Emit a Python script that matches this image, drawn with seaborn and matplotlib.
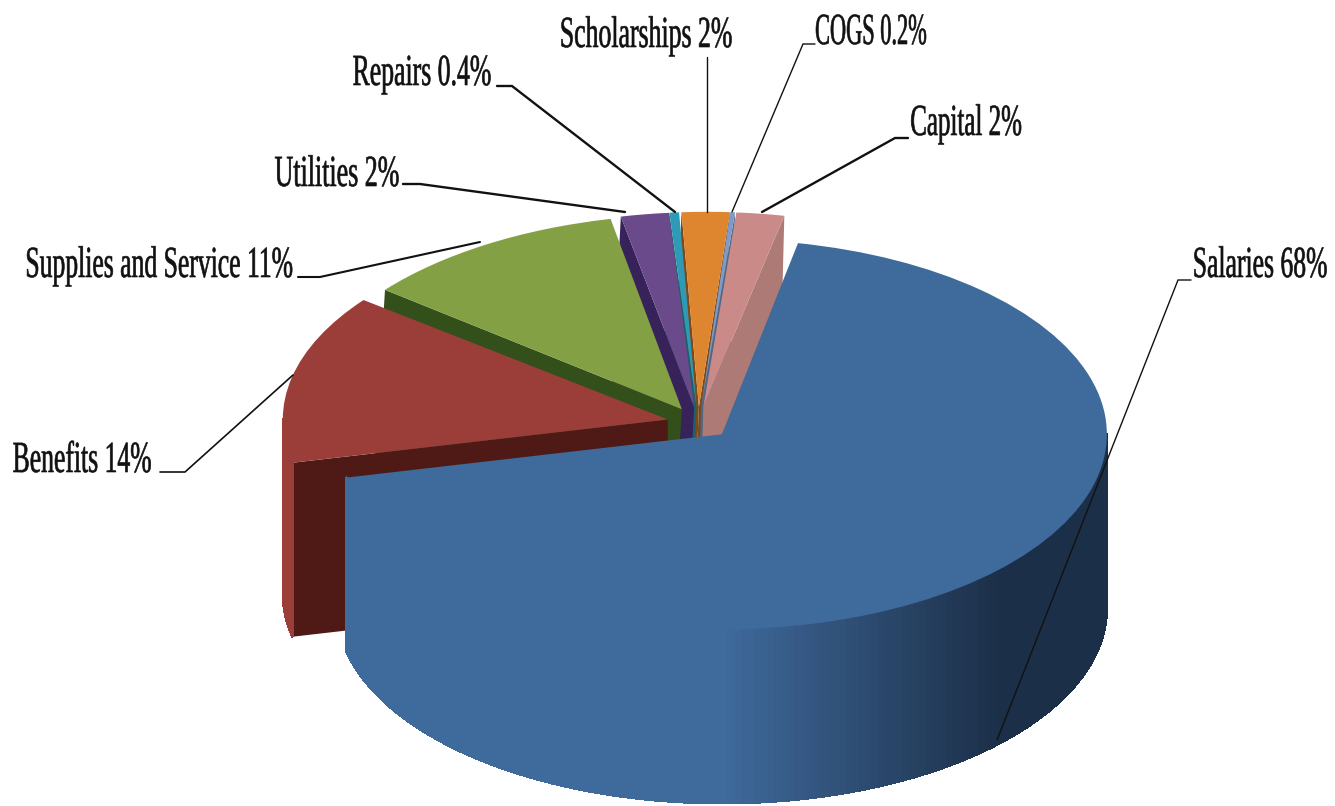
import numpy as np
import matplotlib
matplotlib.use("Agg")
import matplotlib.pyplot as plt
import matplotlib.patheffects as pe
from matplotlib.collections import PolyCollection
from matplotlib.transforms import Affine2D
import seaborn as sns

# -------------------------
# Data
# -------------------------
categories = ["Salaries", "Benefits", "Supplies and Service", "Utilities",
              "Repairs", "Scholarships", "COGS", "Capital"]
shares = [68, 14, 11, 2, 0.4, 2, 0.2, 2]
value_labels = ["68%", "14%", "11%", "2%", "0.4%", "2%", "0.2%", "2%"]

top_colors = ["#3f6a9c", "#9b3e3a", "#84a045", "#6b4a8c",
              "#2f9ab5", "#de8530", "#7d9bc9", "#c98a88"]
wall_colors = ["#1c2f48", "#4f1a15", "#33501a", "#37225a",
               "#1c5f70", "#7a4a1a", "#50678a", "#ad7a76"]

# -------------------------
# Layout (pixels of the 1335x806 picture)
# -------------------------
W, H = 1335, 806
RX, RY = 385, 195
DEPTH = 174
CX, CY = 699, 423
SQUASH = RY / RX
EXPLODE = 0.083
START = 78.6
LABEL_SIZE = 32
lean_x = [0, 0, 12, 10, 8, 8, 6, 5]  # back slices lean a bit to the right (perspective)
draw_order = [5, 6, 7, 4, 3, 2, 1, 0]

label_centers = [(1260, 277), (82, 472), (159, 277), (337, 186),
                 (422, 85), (646, 47), (871, 44), (966, 135)]
label_widths = [135, 139, 268, 125, 139, 173, 112, 112]
leaders = [
    [(997, 740), (1178, 280), (1191, 280)],
    [(293, 375), (185, 472), (160, 472)],
    [(480, 242), (320, 277), (298, 277)],
    [(625, 212), (420, 184), (403, 184)],
    [(675, 212), (512, 86), (497, 86)],
    [(707, 212), (707, 57)],
    [(732, 212), (803, 44), (815, 44)],
    [(762, 212), (895, 138), (908, 138)],
]
leader_widths = [1.0, 1.2, 1.5, 1.7, 1.7, 1.0, 1.0, 1.7]


class Tall(pe.AbstractPathEffect):
    # stretches a text upwards from its baseline, the labels in the original are condensed
    def __init__(self, sy):
        super().__init__()
        self.sy = sy

    def draw_path(self, renderer, gc, tpath, affine, rgbFace=None):
        gc.set_linewidth(0.45)
        gc.set_foreground(rgbFace)
        renderer.draw_path(gc, tpath, Affine2D().scale(1, self.sy) + affine, rgbFace)


sns.set_theme(style="white")
plt.rcParams["font.family"] = ["Liberation Serif", "DejaVu Serif"]

fig = plt.figure(figsize=(W / 100, H / 100), dpi=100, facecolor="white")

# -------------------------
# Pie, flattened by the y limits of the axes
# -------------------------
ax = fig.add_axes([0, 0, 1, 1])
wedges, _ = ax.pie(shares, colors=top_colors, explode=[EXPLODE * RX] * len(shares),
                   startangle=START, counterclock=False, radius=RX,
                   center=(CX, (H - CY) / SQUASH), wedgeprops={"linewidth": 0})
ax.set_aspect("auto")
ax.set_xlim(0, W)
ax.set_ylim(0, H / SQUASH)
ax.axis("off")

drop = DEPTH / SQUASH
for rank, i in enumerate(draw_order):
    wedge = wedges[i]
    x0, y0 = wedge.center
    t1, t2 = wedge.theta1, wedge.theta2
    base = 10 + rank
    k = lean_x[i] / RX
    lean = (Affine2D().translate(-x0, -y0)
            + Affine2D.from_values(1, 0, k, 1, 0, 0)
            + Affine2D().translate(x0, y0)
            + ax.transData)
    wedge.set_transform(lean)
    wedge.set_zorder(base + 0.3)

    # straight walls that look towards the viewer
    for t, seen in ((t1, np.cos(np.radians(t1)) > 0), (t2, np.cos(np.radians(t2)) < 0)):
        if not seen:
            continue
        ex = x0 + RX * np.cos(np.radians(t))
        ey = y0 + RX * np.sin(np.radians(t))
        side = ax.fill([x0, ex, ex, x0], [y0, ey, ey - drop, y0 - drop],
                       color=wall_colors[i], lw=0, zorder=base + 0.1)[0]
        side.set_transform(lean)

    # rounded wall, only the lower half of the ellipse is seen
    angles = np.arange(np.floor(t1), np.ceil(t2) + 1.0)
    angles = np.clip(angles, t1, t2)
    shades = sns.blend_palette([top_colors[i], wall_colors[i]], 64)
    quads, quad_colors = [], []
    for a, b in zip(angles[:-1], angles[1:]):
        if np.sin(np.radians((a + b) / 2)) > 0:
            continue
        ra, rb = np.radians(a), np.radians(b)
        xa, ya = x0 + RX * np.cos(ra), y0 + RX * np.sin(ra)
        xb, yb = x0 + RX * np.cos(rb), y0 + RX * np.sin(rb)
        quads.append([(xa, ya), (xb, yb), (xb, yb - drop), (xa, ya - drop)])
        frac = np.clip(np.cos((ra + rb) / 2) / 0.72, 0, 1)
        quad_colors.append(shades[int(frac * 63)])
    if quads:
        ax.add_collection(PolyCollection(quads, facecolors=quad_colors, edgecolors=quad_colors,
                                         linewidths=1.0, antialiaseds=False, zorder=base + 0.2))

# -------------------------
# Labels and leader lines on an axes in picture pixels
# -------------------------
lab = fig.add_axes([0, 0, 1, 1], facecolor="none")
lab.set_xlim(0, W)
lab.set_ylim(H, 0)
lab.axis("off")

texts = []
for name, val, (tx, ty) in zip(categories, value_labels, label_centers):
    texts.append(lab.text(tx, ty, f"{name} {val}", fontsize=LABEL_SIZE, color="#111111",
                          ha="center", va="baseline"))

# font size from the width each label has in the picture, height comes from the stretch
fig.canvas.draw()
renderer = fig.canvas.get_renderer()
for t, target in zip(texts, label_widths):
    fitted = LABEL_SIZE * target / t.get_window_extent(renderer).width
    t.set_fontsize(fitted)
    t.set_path_effects([Tall(LABEL_SIZE / fitted)])

for line, width in zip(leaders, leader_widths):
    xs, ys = zip(*line)
    lab.plot(xs, ys, color="#111111", lw=width, solid_joinstyle="miter")

fig.savefig("out.png", dpi=100)
